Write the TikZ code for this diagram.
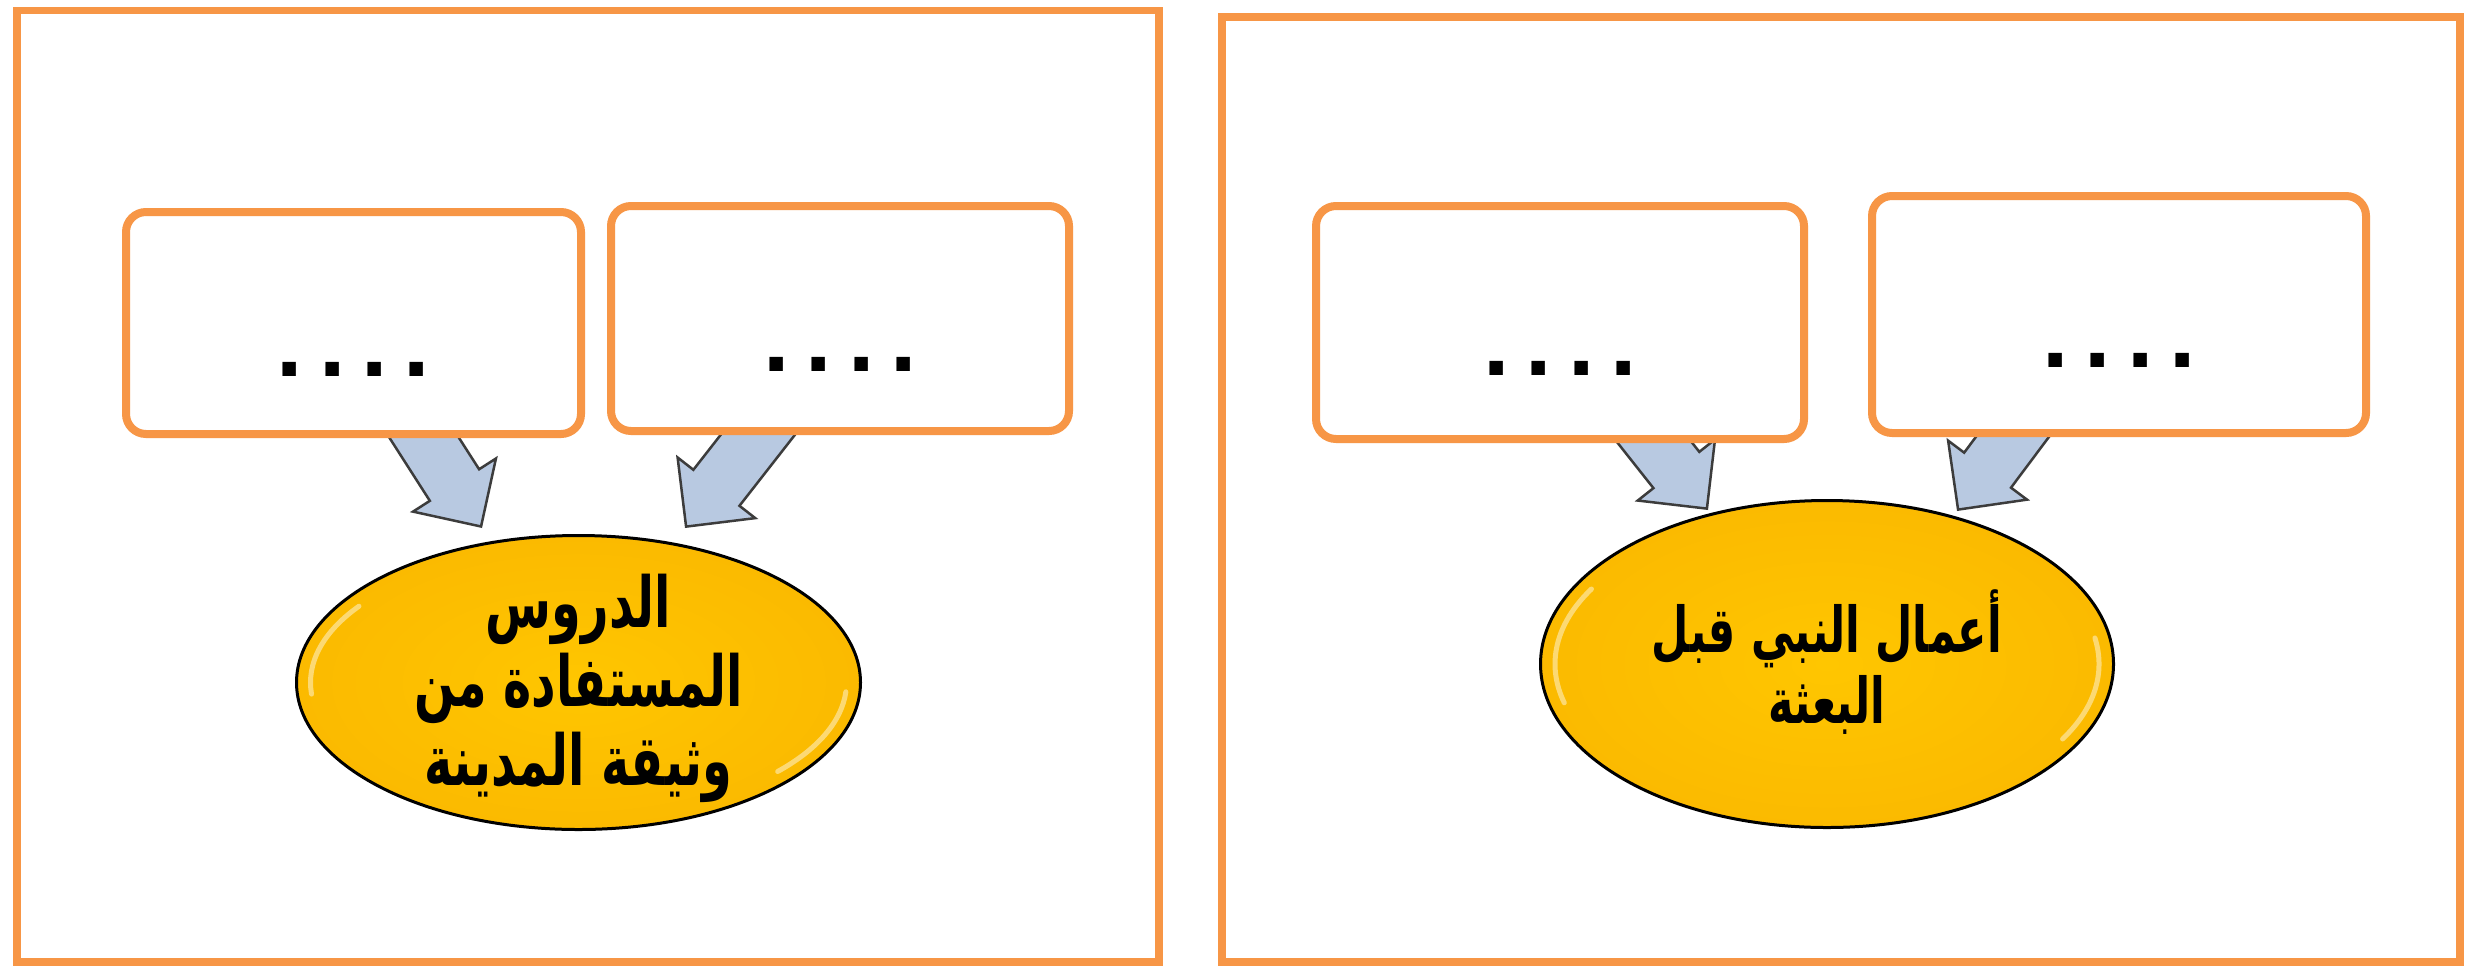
\documentclass[tikz,border=0pt]{standalone}
\usepackage{fontspec}
\usetikzlibrary{shapes.geometric,shapes.arrows,calc}
\TeXXeTstate=1
\newfontfamily\arabicfont[Script=Arabic,FakeStretch=0.68]{DejaVu Sans}
\newfontfamily\dotfont{Liberation Sans}
\definecolor{frameorange}{HTML}{F79646}
\definecolor{gold}{HTML}{FFC600}
\definecolor{golddark}{HTML}{FBBA00}
\definecolor{arrowfill}{HTML}{B8C9E1}
\definecolor{arrowline}{HTML}{3C3C3C}
\pgfdeclarelayer{back}
\pgfdeclarelayer{mid}
\pgfsetlayers{back,mid,main}
\tikzset{
  frame/.style={draw=frameorange, line width=0.75mm},
  dotbox/.style={draw=frameorange, line width=0.8mm, fill=white, rounded corners=2mm,
    inner sep=0pt, text height=10.6mm, text depth=0pt,
    font=\dotfont\bfseries\fontsize{27}{27}\selectfont},
  goal/.style={ellipse, draw=black, line width=0.3mm, inner color=gold, outer color=golddark, inner sep=0pt},
  goaltext/.style={align=center, inner sep=0pt},
  barrow/.style={single arrow, draw=arrowline, line width=0.25mm, fill=arrowfill,
    inner xsep=0pt, inner ysep=2.8mm, single arrow head extend=2mm,
    single arrow tip angle=90, minimum width=0pt},
  gloss/.style={white, opacity=0.45, line width=0.5mm, line cap=round},
}
\newcommand\dotrow{.\kern1.6mm.\kern1.6mm.\kern1.6mm.}
\newcommand\blockarrow[3]{%
  \path let \p1=(#2), \p2=(#3),
    \n1={atan2(\y2-\y1,\x2-\x1)}, \n2={veclen(\x2-\x1,\y2-\y1)} in
    node[barrow, name=#1, rotate=\n1, minimum height=\n2, anchor=tip] at (\p2) {};}
\begin{document}
\begin{tikzpicture}[x=0.1mm,y=-0.1mm]
\useasboundingbox (0,0) rectangle (2467,966);
\begin{pgfonlayer}{back}
  \fill[white] (0,0) rectangle (2467,966);
  \draw[frame] (17,10.5) rectangle (1159,962);
  \draw[frame] (1222,17) rectangle (2460,962);
\end{pgfonlayer}

% boxes
\node[dotbox, minimum width=45.5mm, minimum height=22.2mm] (b1) at (353.5,323) {\dotrow};
\node[dotbox, minimum width=45.8mm, minimum height=22.5mm] (b2) at (840,318.5) {\dotrow};
\node[dotbox, minimum width=48.8mm, minimum height=23.3mm] (b3) at (1560,322.5) {\dotrow};
\node[dotbox, minimum width=49.4mm, minimum height=23.7mm] (b4) at (2119,314.5) {\dotrow};

% ellipses
\node[goal, minimum width=56.4mm, minimum height=29.4mm] (e1) at (578.5,682.5) {};
\node[goal, minimum width=57.3mm, minimum height=32.7mm] (e2) at (1827,664) {};
\begin{scope}[shift={(e1.center)}]
  \draw[gloss] (145:26.8mm and 13.3mm) arc[start angle=145, end angle=185, x radius=26.8mm, y radius=13.3mm];
  \draw[gloss] (318:26.8mm and 13.3mm) arc[start angle=318, end angle=356, x radius=26.8mm, y radius=13.3mm];
\end{scope}
\begin{scope}[shift={(e2.center)}]
  \draw[gloss] (150:27.2mm and 15mm) arc[start angle=150, end angle=195, x radius=27.2mm, y radius=15mm];
  \draw[gloss] (330:27.2mm and 15mm) arc[start angle=330, end angle=370, x radius=27.2mm, y radius=15mm];
\end{scope}
\node[goaltext, font=\arabicfont\bfseries\fontsize{20}{22.5}\selectfont] (t1) at ($(e1.center)+(0,6)$)
  {\beginR الدروس\endR\\ \beginR المستفادة من\endR\\ \beginR وثيقة المدينة\endR};
\node[goaltext, font=\arabicfont\bfseries\fontsize{18}{20}\selectfont] (t2) at ($(e2.center)+(0,-2)$)
  {\beginR أعمال النبي قبل\endR\\ \beginR البعثة\endR};

% arrow ends
\coordinate (a1s) at ($(b1.center)+(46.5,77)$);
\coordinate (a1e) at ($(e1.center)+(-96.5,-154.5)$);
\coordinate (a2s) at ($(b2.center)+(-55,81.5)$);
\coordinate (a2e) at ($(e1.center)+(106.5,-154.5)$);
\coordinate (a3s) at ($(b3.center)+(61,77.5)$);
\coordinate (a3e) at ($(e2.center)+(-119,-154)$);
\coordinate (a4s) at ($(b4.center)+(-79,85.5)$);
\coordinate (a4e) at ($(e2.center)+(130,-153)$);
\begin{pgfonlayer}{mid}
  \blockarrow{a1}{a1s}{a1e}
  \blockarrow{a2}{a2s}{a2e}
  \blockarrow{a3}{a3s}{a3e}
  \blockarrow{a4}{a4s}{a4e}
\end{pgfonlayer}
\end{tikzpicture}
\end{document}
